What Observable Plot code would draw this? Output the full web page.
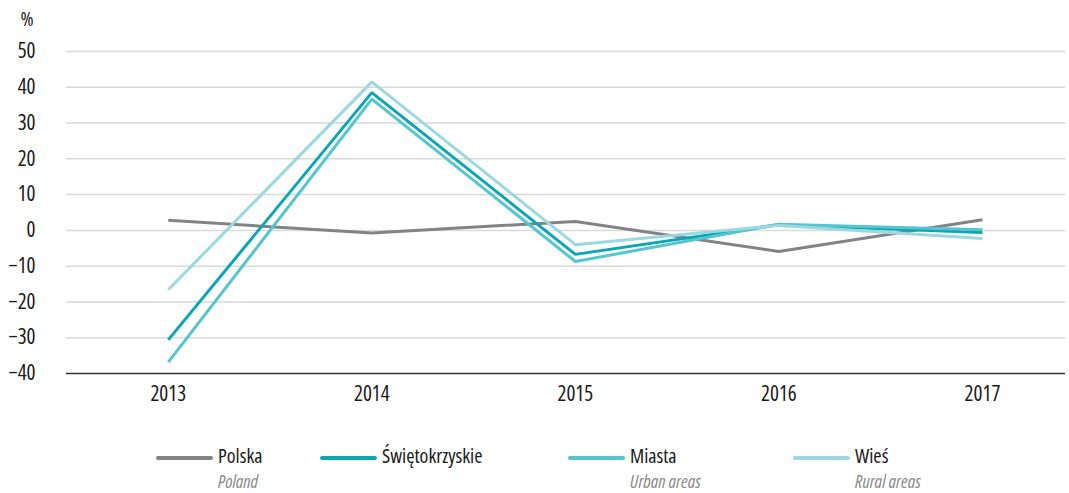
<!DOCTYPE html>
<html>
<head>
<meta charset="utf-8">
<script src="https://cdn.jsdelivr.net/npm/d3@7"></script>
<script src="https://cdn.jsdelivr.net/npm/@observablehq/plot@0.6"></script>
<style>
  html, body { margin: 0; padding: 0; background: #fff; }
  #wrap { position: relative; width: 1069px; height: 493px; font-family: "Open Sans", sans-serif; font-stretch: condensed; overflow: hidden; }
  svg text { font-stretch: condensed; }
  .lg-line { position: absolute; height: 4px; border-radius: 2px; }
  .lg-text { position: absolute; font-size: 20px; color: #1a1a1a; line-height: 20px; white-space: nowrap; }
  .lg-sub { position: absolute; font-size: 18px; color: #8a8a8a; font-style: italic; line-height: 18px; white-space: nowrap; }
</style>
</head>
<body>
<div id="wrap"></div>
<script>
const years = [2013, 2014, 2015, 2016, 2017];
const seriesNames = ["Polska", "Świętokrzyskie", "Miasta", "Wieś"];
const seriesSub = ["Poland", "", "Urban areas", "Rural areas"];
const polska = [2.8, -0.7, 2.5, -5.9, 3.0];
const swietokrzyskie = [-30.6, 38.5, -6.7, 1.6, -0.6];
const miasta = [-36.8, 36.7, -8.7, 1.7, 0.2];
const wies = [-16.6, 41.5, -4.0, 1.4, -2.3];
const colors = ["#838387", "#0aa6b4", "#55c5d0", "#9bd8df"];
const yTicks = [-40, -30, -20, -10, 0, 10, 20, 30, 40, 50];

const valuesBySeries = [polska, swietokrzyskie, miasta, wies];
const data = [];
seriesNames.forEach((s, i) => years.forEach((yr, j) => data.push({series: s, year: yr, value: valuesBySeries[i][j]})));

const chart = Plot.plot({
  width: 1069,
  height: 420,
  marginLeft: 66,
  marginRight: 4,
  marginTop: 51,
  marginBottom: 47,
  style: {fontFamily: '"Open Sans", sans-serif', fontSize: "21px", color: "#1a1a1a", fontStretch: "condensed"},
  x: {type: "linear", domain: [2012.5, 2017.408], ticks: years, tickFormat: d => String(d)},
  y: {domain: [-40, 50], ticks: yTicks},
  color: {domain: seriesNames, range: colors},
  marks: [
    Plot.ruleY(yTicks.filter(t => t > -40), {stroke: "#d9d9d9", strokeWidth: 1.5}),
    Plot.ruleY([-40], {stroke: "#333", strokeWidth: 1.5}),
    Plot.axisY({ticks: yTicks, tickSize: 0, tickPadding: 31, label: null, fontSize: 21, fill: "#1a1a1a"}),
    Plot.axisX({ticks: years, tickSize: 0, tickPadding: 13, label: null, fontSize: 21, fill: "#1a1a1a", tickFormat: d => String(d)}),
    Plot.text(["%"], {frameAnchor: "top-left", dx: -46, dy: -40, fontSize: 20, fill: "#1a1a1a", textAnchor: "start", lineAnchor: "top"}),
    Plot.line(data, {x: "year", y: "value", z: "series", stroke: "series", strokeWidth: 3, strokeLinejoin: "miter", strokeLinecap: "butt"})
  ]
});

const wrap = document.getElementById("wrap");
wrap.appendChild(chart);

const legendX = [156, 320, 568, 793];
seriesNames.forEach((s, i) => {
  const ln = document.createElement("div");
  ln.className = "lg-line";
  ln.style.left = legendX[i] + "px";
  ln.style.top = "456px";
  ln.style.width = "57px";
  ln.style.background = colors[i];
  wrap.appendChild(ln);
  const t = document.createElement("div");
  t.className = "lg-text";
  t.style.left = (legendX[i] + 62) + "px";
  t.style.top = "446px";
  t.textContent = s;
  wrap.appendChild(t);
  if (seriesSub[i]) {
    const st = document.createElement("div");
    st.className = "lg-sub";
    st.style.left = (legendX[i] + 62) + "px";
    st.style.top = "471.5px";
    st.textContent = seriesSub[i];
    wrap.appendChild(st);
  }
});
</script>
</body>
</html>
